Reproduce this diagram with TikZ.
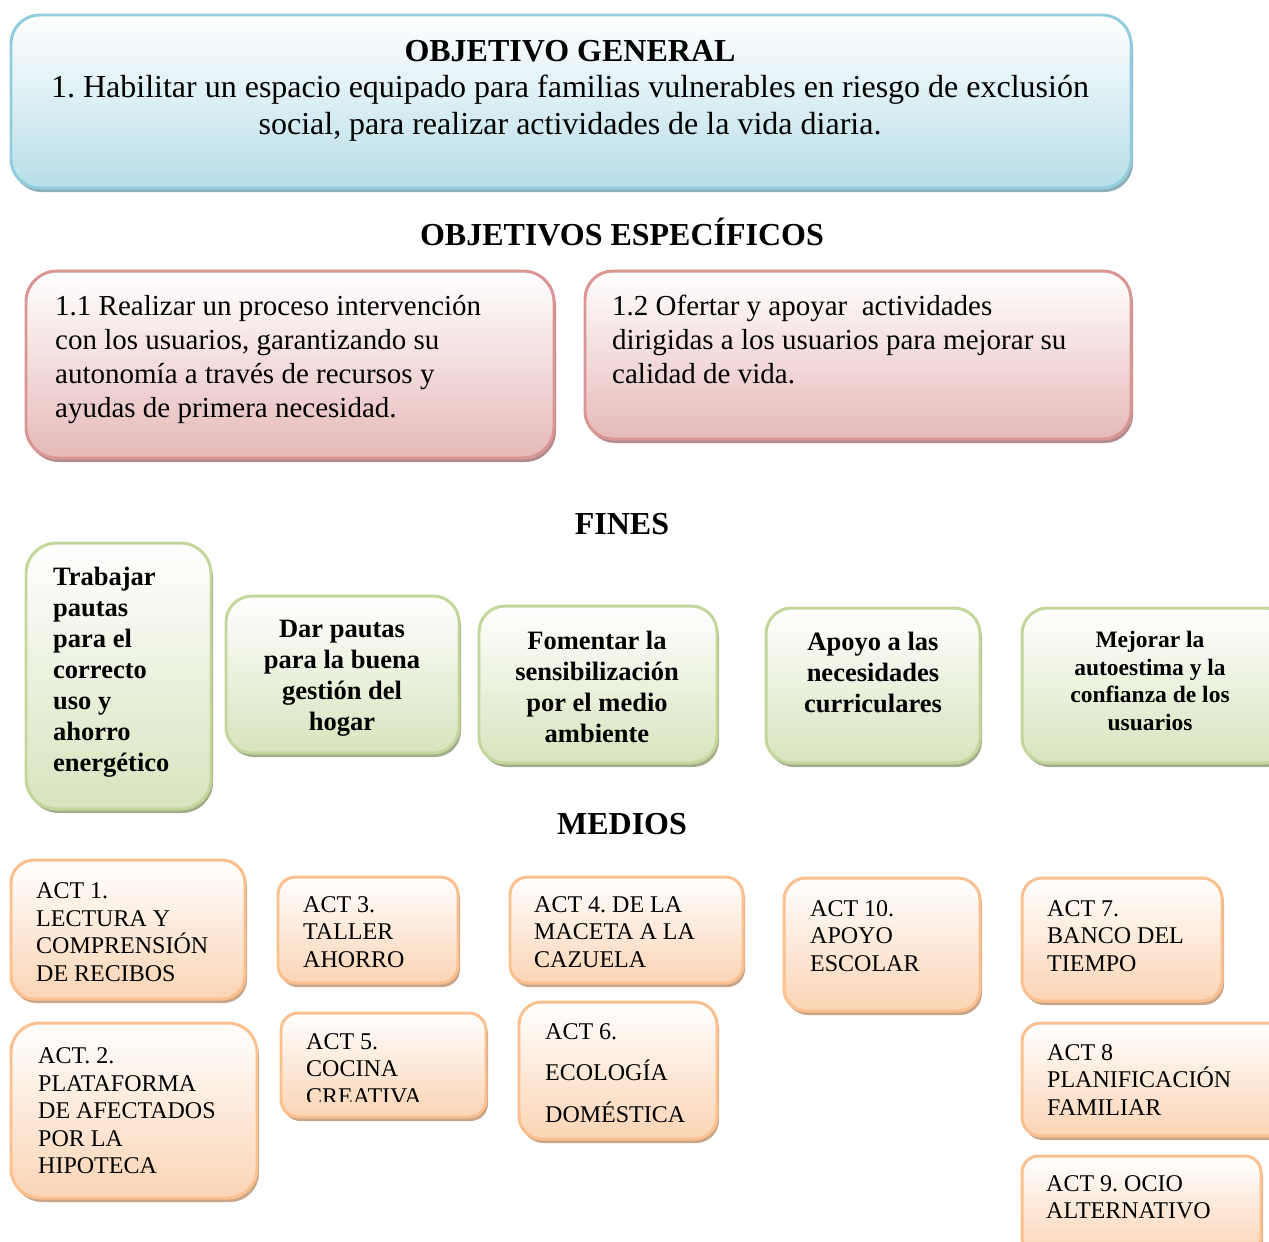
\documentclass[tikz,border=0pt]{standalone}
\usepackage{fontspec}
\setmainfont{Liberation Serif}
\frenchspacing

\begin{document}
\begin{tikzpicture}[x=1bp, y=-1bp]

	\useasboundingbox (0,0) rectangle (1269,1242);

	% Colours
	\definecolor{azulborde}{RGB}{147,205,221}
	\definecolor{azulfondo}{RGB}{183,222,232}
	\definecolor{azulsombra}{RGB}{140,172,182}
	\definecolor{rosaborde}{RGB}{217,150,148}
	\definecolor{rosafondo}{RGB}{230,185,184}
	\definecolor{rosasombra}{RGB}{178,140,140}
	\definecolor{verdeborde}{RGB}{195,214,155}
	\definecolor{verdefondo}{RGB}{215,228,189}
	\definecolor{verdesombra}{RGB}{160,172,140}
	\definecolor{naranjaborde}{RGB}{250,192,144}
	\definecolor{naranjafondo}{RGB}{251,212,180}
	\definecolor{naranjasombra}{RGB}{200,165,135}

	% Styles
	\tikzstyle{titulo}=[font=\bfseries\fontsize{32bp}{37bp}\selectfont, inner sep=0]
	\tikzstyle{generaltexto}=[font=\fontsize{32bp}{37bp}\selectfont, align=center, inner sep=0]
	\tikzstyle{esptexto}=[font=\fontsize{29bp}{34bp}\selectfont, align=left, anchor=west, inner sep=0]
	\tikzstyle{fintexto}=[font=\bfseries\fontsize{26.5bp}{31bp}\selectfont, align=center, inner sep=0]
	\tikzstyle{acttexto}=[font=\fontsize{24bp}{27.5bp}\selectfont, align=left, anchor=west, inner sep=0]

	% Box: colour, x1, y1, x2, y2
	\def\caja#1#2#3#4#5{
		\pgfmathsetmacro\rr{min(#4-#2,#5-#3)/6}
		\fill[#1sombra, rounded corners=\rr] (#2+2,#3+4) rectangle (#4+2,#5+4);
		\draw[#1borde, line width=3, top color=white, bottom color=#1fondo, rounded corners=\rr] (#2,#3) rectangle (#4,#5);
	}

	% Objetivo general
	\caja{azul}{11}{15}{1131}{188}
	\node[titulo] (gentit) at (570,51) {OBJETIVO GENERAL};
	\node[generaltexto] (gen) at (570,108) {1. Habilitar un espacio equipado para familias vulnerables en riesgo de exclusión\\ social, para realizar actividades de la vida diaria.};

	% Objetivos especificos
	\node[titulo] (esptit) at (622,232) {OBJETIVOS ESPECÍFICOS};
	\caja{rosa}{26}{271}{554}{458}
	\caja{rosa}{585}{271}{1131}{439}
	\node[esptexto] (esp1) at (55,360) {1.1 Realizar un proceso intervención\\ con los usuarios, garantizando su\\ autonomía a través de recursos y\\ ayudas de primera necesidad.};
	\node[esptexto] (esp2) at (612,339) {1.2 Ofertar y apoyar\ \ actividades\\ dirigidas a los usuarios para mejorar su\\ calidad de vida.};

	% Fines
	\node[titulo] (fintit) at (622,524) {FINES};
	\caja{verde}{26}{543}{211}{809}
	\caja{verde}{226}{596}{459}{753}
	\caja{verde}{479}{606}{717}{763}
	\caja{verde}{766}{608}{980}{763}
	\caja{verde}{1022}{608}{1290}{763}
	\node[fintexto, align=left, anchor=west] (fin1) at (53,672) {Trabajar\\ pautas\\ para el\\ correcto\\ uso y\\ ahorro\\ energético};
	\node[fintexto] (fin2) at (342,678) {Dar pautas\\ para la buena\\ gestión del\\ hogar};
	\node[fintexto] (fin3) at (597,687) {Fomentar la\\ sensibilización\\ por el medio\\ ambiente};
	\node[fintexto] (fin4) at (873,672) {Apoyo a las\\ necesidades\\ curriculares};
	\node[fintexto, font=\bfseries\fontsize{23.5bp}{27.7bp}\selectfont] (fin5) at (1150,681) {Mejorar la\\ autoestima y la\\ confianza de los\\ usuarios};

	% Medios
	\node[titulo] (medtit) at (622,824) {MEDIOS};
	\caja{naranja}{11}{860}{245}{999}
	\caja{naranja}{278}{877}{458}{983}
	\caja{naranja}{510}{877}{743}{983}
	\caja{naranja}{784}{878}{980}{1011}
	\caja{naranja}{1022}{878}{1222}{1001}
	\caja{naranja}{11}{1023}{257}{1198}
	\caja{naranja}{281}{1013}{486}{1117}
	\caja{naranja}{519}{1002}{717}{1139}
	\caja{naranja}{1022}{1023}{1290}{1136}
	\caja{naranja}{1022}{1156}{1261}{1255}

	\node[acttexto] (act1) at (36,932) {ACT 1.\\ LECTURA Y\\ COMPRENSIÓN\\ DE RECIBOS};
	\node[acttexto] (act3) at (303,932) {ACT 3.\\ TALLER\\ AHORRO};
	\node[acttexto] (act4) at (534,932) {ACT 4. DE LA\\ MACETA A LA\\ CAZUELA};
	\node[acttexto] (act10) at (810,936) {ACT 10.\\ APOYO\\ ESCOLAR};
	\node[acttexto] (act7) at (1047,936) {ACT 7.\\ BANCO DEL\\ TIEMPO};
	\node[acttexto] (act2) at (38,1111) {ACT. 2.\\ PLATAFORMA\\ DE AFECTADOS\\ POR LA\\ HIPOTECA};
	\begin{scope}
		\clip (281,1013) rectangle (486,1101);
		\node[acttexto] (act5) at (306,1069) {ACT 5.\\ COCINA\\ CREATIVA};
	\end{scope}
	\node[acttexto, font=\fontsize{24bp}{41.5bp}\selectfont] (act6) at (545,1073) {ACT 6.\\ ECOLOGÍA\\ DOMÉSTICA};
	\node[acttexto] (act8) at (1047,1080) {ACT 8\\ PLANIFICACIÓN\\ FAMILIAR};
	\node[acttexto] (act9) at (1046,1197) {ACT 9. OCIO\\ ALTERNATIVO};

\end{tikzpicture}
\end{document}
